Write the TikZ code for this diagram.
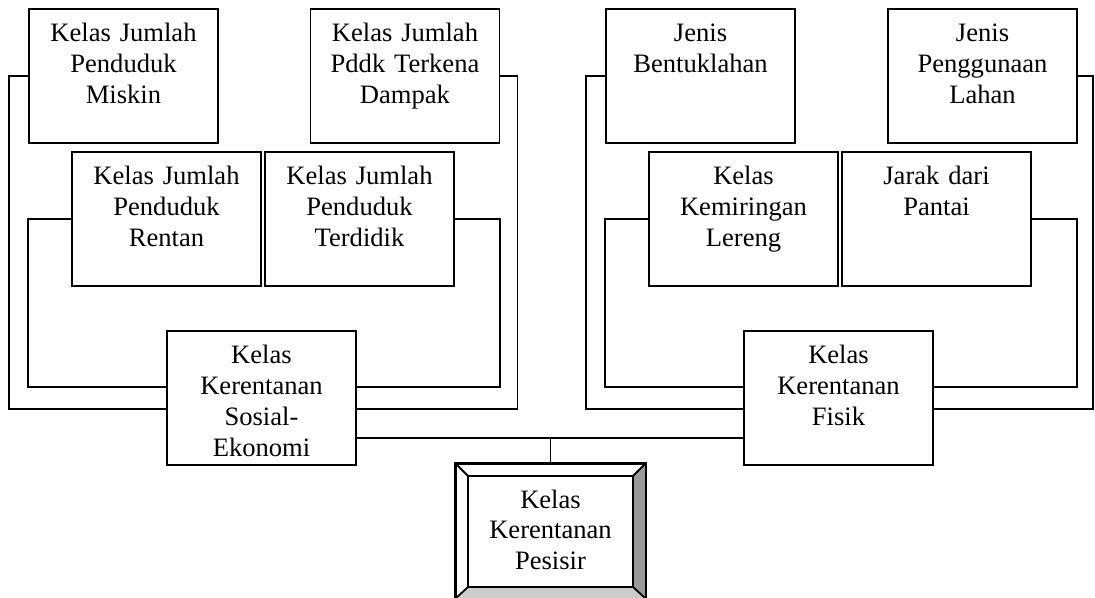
\documentclass[tikz,border=0pt]{standalone}
\usepackage{fontspec}
\setmainfont{Liberation Serif}
\usetikzlibrary{calc}
\tikzset{
box/.style = {draw, fill=white, rectangle, align=center, inner sep=0pt, text width=4.725cm, text height=0.825cm, text depth=2.525cm, font=\fontsize{18.9}{22}\selectfont},
bevelbox/.style = {box, text height=1.1cm, text depth=2.25cm},
link/.style = {draw},
}
\begin{document}
\begin{tikzpicture}[x=0.025cm, y=-0.025cm, line width=1.3pt]
        \useasboundingbox (0,0) rectangle (1095,597);
        %sosial-ekonomi
        \node [box] (miskin) at (123.5,76) {Kelas Jumlah\\Penduduk\\Miskin};
        \node [box] (dampak) at (405,76) {Kelas Jumlah\\Pddk Terkena\\Dampak};
        \node [box] (rentan) at (166.5,219) {Kelas Jumlah\\Penduduk\\Rentan};
        \node [box] (terdidik) at (359.5,219) {Kelas Jumlah\\Penduduk\\Terdidik};
        \node [box] (sosial) at (261.5,398) {Kelas\\Kerentanan\\Sosial-\\Ekonomi};
        %fisik
        \node [box] (bentuk) at (700.5,76) {Jenis\\Bentuklahan};
        \node [box] (guna) at (982.5,76) {Jenis\\Penggunaan\\Lahan};
        \node [box] (miring) at (743.5,219) {Kelas\\Kemiringan\\Lereng};
        \node [box] (jarak) at (936.5,219) {Jarak dari\\Pantai};
        \node [box] (fisik) at (838.5,398) {Kelas\\Kerentanan\\Fisik};
        %pesisir
        \node [bevelbox] (pesisir) at (550.5,531) {Kelas\\Kerentanan\\Pesisir};
        \fill[black!40] (pesisir.north east) -- (pesisir.south east) -- ([shift={(-13,-12)}]pesisir.south east) -- ([shift={(-13,13)}]pesisir.north east) -- cycle;
        \fill[black!20] (pesisir.south west) -- (pesisir.south east) -- ([shift={(-13,-12)}]pesisir.south east) -- ([shift={(13,-12)}]pesisir.south west) -- cycle;
        \draw ([shift={(13,13)}]pesisir.north west) rectangle ([shift={(-13,-12)}]pesisir.south east);
        \draw (pesisir.north west) -- ([shift={(13,13)}]pesisir.north west);
        \draw (pesisir.north east) -- ([shift={(-13,13)}]pesisir.north east);
        \draw (pesisir.south west) -- ([shift={(13,-12)}]pesisir.south west);
        \draw (pesisir.south east) -- ([shift={(-13,-12)}]pesisir.south east);
        \draw (pesisir.north west) rectangle (pesisir.south east);

        \draw [link] (miskin.west) -- ++(-19,0) |- ([shift={(0,11)}]sosial.west);
        \draw [link] (rentan.west) -- ++(-43,0) |- ([shift={(0,-11)}]sosial.west);
        \draw [link] (dampak.east) -- ++(17,0) |- ([shift={(0,11)}]sosial.east);
        \draw [link] (terdidik.east) -- ++(45,0) |- ([shift={(0,-11)}]sosial.east);
        \draw [link] (bentuk.west) -- ++(-19,0) |- ([shift={(0,11)}]fisik.west);
        \draw [link] (miring.west) -- ++(-43,0) |- ([shift={(0,-11)}]fisik.west);
        \draw [link] (guna.east) -- ++(15,0) |- ([shift={(0,11)}]fisik.east);
        \draw [link] (jarak.east) -- ++(45,0) |- ([shift={(0,-11)}]fisik.east);
        \coordinate (sj) at ([shift={(0,40)}]sosial.east);
        \coordinate (fj) at ([shift={(0,40)}]fisik.west);
        \draw [link] (sj) -- (fj);
        \draw [link] (pesisir.north) -- (pesisir.north |- sj);
\end{tikzpicture}
\end{document}
